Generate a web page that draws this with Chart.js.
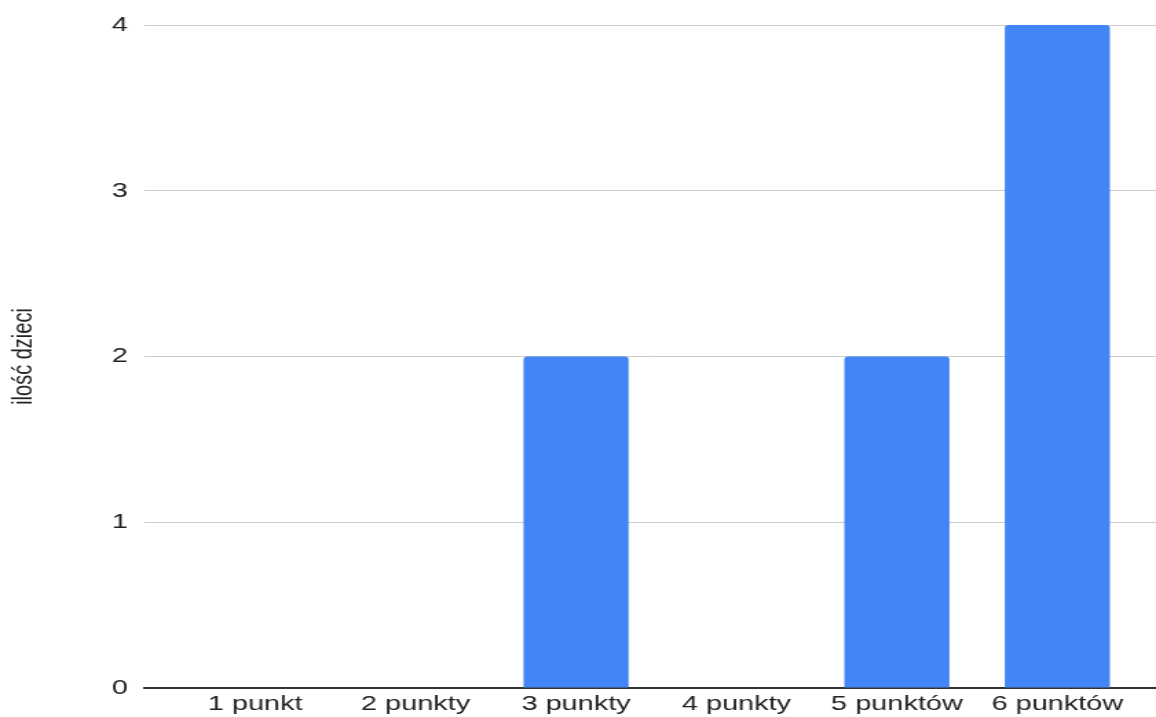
<!DOCTYPE html>
<html lang="pl">
<head>
  <meta charset="UTF-8" />
  <title>Ilość dzieci wg punktów</title>
  <style>
    body {
      margin: 0;
      background: #fff;
      overflow: hidden;
    }

    #wykres {
      display: block;
    }
  </style>
</head>
<body>
  <!-- płótno rysowane węziej i rozciągnięte w poziomie -->
  <canvas id="wykres" width="840" height="717" style="width:1156px;height:717px"></canvas>

  <script src="https://cdn.jsdelivr.net/npm/chart.js"></script>
  <script>
    const kategorie = ['1 punkt', '2 punkty', '3 punkty', '4 punkty', '5 punktów', '6 punktów'];
    const iloscDzieci = [0, 0, 2, 0, 2, 4];
    const wartosciOsiY = [0, 1, 2, 3, 4];

    const czcionka = { family: "'Liberation Sans', Arial, sans-serif", size: 21 };

    const ctx = document.getElementById('wykres').getContext('2d');
    new Chart(ctx, {
      type: 'bar',
      data: {
        datasets: [{
          label: 'ilość dzieci',
          data: iloscDzieci.map((v, i) => ({ x: i, y: v })),
          backgroundColor: '#4285f4',
          borderRadius: { topLeft: 3, topRight: 3 },
          borderSkipped: 'start',
          categoryPercentage: 1,
          barPercentage: 0.655
        }]
      },
      options: {
        responsive: false,
        animation: false,
        devicePixelRatio: 1,
        layout: { padding: { top: 25, right: 0, left: 0, bottom: 0 } },
        plugins: {
          legend: { display: false },
          tooltip: { enabled: false }
        },
        scales: {
          x: {
            type: 'linear',
            offset: false,
            min: -0.69,
            max: 5.615,
            grid: { display: false, drawTicks: false },
            border: { display: true, color: '#333', width: 2 },
            afterBuildTicks: (axis) => {
              axis.ticks = kategorie.map((_, i) => ({ value: i }));
            },
            afterFit: (axis) => { axis.height = 29; },
            ticks: {
              autoSkip: false,
              maxRotation: 0,
              padding: 4,
              color: '#222',
              font: czcionka,
              callback: (v) => kategorie[v] ?? ''
            }
          },
          y: {
            min: wartosciOsiY[0],
            max: wartosciOsiY[wartosciOsiY.length - 1],
            grid: { color: '#cccccc', drawTicks: false },
            border: { display: false },
            afterFit: (axis) => { axis.width = 105; },
            ticks: {
              stepSize: 1,
              padding: 12,
              color: '#222',
              font: czcionka
            },
            title: {
              display: true,
              text: 'ilość dzieci',
              color: '#222',
              padding: { top: 5, bottom: 0 },
              font: { family: "'Liberation Sans', Arial, sans-serif", size: 20 }
            }
          }
        }
      }
    });
  </script>
</body>
</html>
